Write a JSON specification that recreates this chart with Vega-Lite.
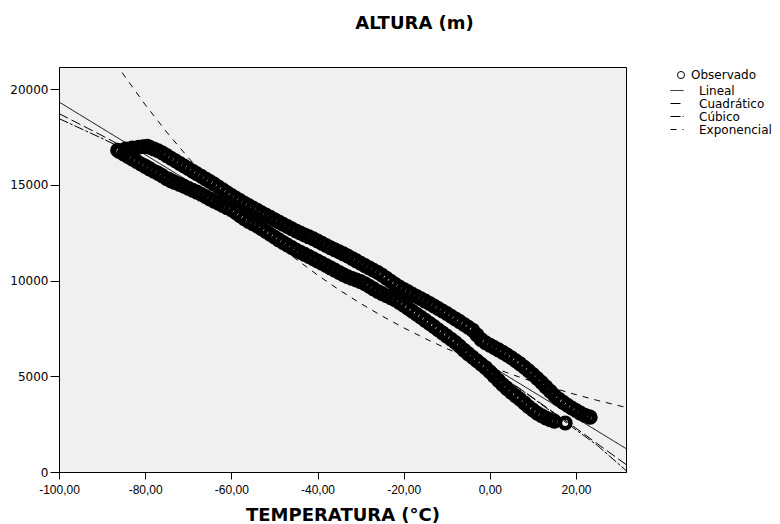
{
  "$schema": "https://vega.github.io/schema/vega-lite/v6.json",
  "width": 567,
  "height": 405,
  "autosize": {"type": "none"},
  "padding": {"left": 59, "top": 67, "right": 154, "bottom": 52},
  "background": "white",
  "title": {"text": "ALTURA (m)", "anchor": "middle", "frame": "group", "dx": 72, "offset": 20, "baseline": "alphabetic", "font": "DejaVu Sans", "fontSize": 18, "fontWeight": "bold", "color": "black"},
  "datasets": {
    "obs": [
      {"t":-79.5,"h":17020},{"t":-79,"h":16974},{"t":-78,"h":16880},{"t":-77,"h":16787},{"t":-76,"h":16665},{"t":-75,"h":16530},{"t":-74,"h":16394},{"t":-73,"h":16259},{"t":-72,"h":16124},{"t":-71,"h":15989},{"t":-70,"h":15854},{"t":-69,"h":15719},{"t":-68,"h":15584},{"t":-67,"h":15449},{"t":-66,"h":15314},{"t":-65,"h":15178},{"t":-64,"h":15043},{"t":-63,"h":14894},{"t":-62,"h":14744},{"t":-61,"h":14594},{"t":-60,"h":14451},{"t":-59,"h":14316},{"t":-58,"h":14181},{"t":-57,"h":14046},{"t":-56,"h":13920},{"t":-55,"h":13795},{"t":-54,"h":13670},{"t":-53,"h":13545},{"t":-52,"h":13424},{"t":-51,"h":13305},{"t":-50,"h":13185},{"t":-49,"h":13066},{"t":-48,"h":12947},{"t":-47,"h":12827},{"t":-46,"h":12708},{"t":-45,"h":12589},{"t":-44,"h":12487},{"t":-43,"h":12387},{"t":-42,"h":12287},{"t":-41,"h":12187},{"t":-40,"h":12073},{"t":-39,"h":11953},{"t":-38,"h":11833},{"t":-37,"h":11716},{"t":-36,"h":11610},{"t":-35,"h":11504},{"t":-34,"h":11398},{"t":-33,"h":11286},{"t":-32,"h":11159},{"t":-31,"h":11032},{"t":-30,"h":10905},{"t":-29,"h":10783},{"t":-28,"h":10664},{"t":-27,"h":10544},{"t":-26,"h":10425},{"t":-25,"h":10280},{"t":-24,"h":10122},{"t":-23,"h":9963},{"t":-22,"h":9804},{"t":-21,"h":9668},{"t":-20,"h":9541},{"t":-19,"h":9414},{"t":-18,"h":9288},{"t":-17,"h":9168},{"t":-16,"h":9049},{"t":-15,"h":8930},{"t":-14,"h":8810},{"t":-13,"h":8677},{"t":-12,"h":8545},{"t":-11,"h":8412},{"t":-10,"h":8279},{"t":-9,"h":8139},{"t":-8,"h":7998},{"t":-7,"h":7857},{"t":-6,"h":7713},{"t":-5,"h":7563},{"t":-4,"h":7412},{"t":-3,"h":7163},{"t":-2,"h":6916},{"t":-1,"h":6756},{"t":0,"h":6627},{"t":1,"h":6505},{"t":2,"h":6383},{"t":3,"h":6251},{"t":4,"h":6115},{"t":5,"h":5970},{"t":6,"h":5812},{"t":7,"h":5651},{"t":8,"h":5471},{"t":9,"h":5291},{"t":10,"h":5091},{"t":11,"h":4888},{"t":12,"h":4674},{"t":13,"h":4450},{"t":14,"h":4225},{"t":15,"h":4000},{"t":16,"h":3807},{"t":17,"h":3639},{"t":18,"h":3489},{"t":19,"h":3347},{"t":20,"h":3212},{"t":21,"h":3077},{"t":22,"h":2969},{"t":23,"h":2885},{"t":23.3,"h":2858},
      {"t":-86.4,"h":16809},{"t":-86,"h":16751},{"t":-85,"h":16617},{"t":-84,"h":16486},{"t":-83,"h":16355},{"t":-82,"h":16223},{"t":-81,"h":16092},{"t":-80,"h":15960},{"t":-79,"h":15836},{"t":-78,"h":15715},{"t":-77,"h":15594},{"t":-76,"h":15463},{"t":-75,"h":15328},{"t":-74,"h":15209},{"t":-73,"h":15119},{"t":-72,"h":15028},{"t":-71,"h":14927},{"t":-70,"h":14825},{"t":-69,"h":14724},{"t":-68,"h":14623},{"t":-67,"h":14513},{"t":-66,"h":14392},{"t":-65,"h":14270},{"t":-64,"h":14152},{"t":-63,"h":14040},{"t":-62,"h":13928},{"t":-61,"h":13815},{"t":-60,"h":13703},{"t":-59,"h":13555},{"t":-58,"h":13393},{"t":-57,"h":13232},{"t":-56,"h":13091},{"t":-55,"h":12970},{"t":-54,"h":12849},{"t":-53,"h":12716},{"t":-52,"h":12569},{"t":-51,"h":12423},{"t":-50,"h":12276},{"t":-49,"h":12129},{"t":-48,"h":11995},{"t":-47,"h":11862},{"t":-46,"h":11730},{"t":-45,"h":11597},{"t":-44,"h":11483},{"t":-43,"h":11371},{"t":-42,"h":11258},{"t":-41,"h":11145},{"t":-40,"h":11025},{"t":-39,"h":10906},{"t":-38,"h":10787},{"t":-37,"h":10667},{"t":-36,"h":10548},{"t":-35,"h":10429},{"t":-34,"h":10310},{"t":-33,"h":10201},{"t":-32,"h":10116},{"t":-31,"h":10032},{"t":-30,"h":9947},{"t":-29,"h":9835},{"t":-28,"h":9702},{"t":-27,"h":9570},{"t":-26,"h":9437},{"t":-25,"h":9321},{"t":-24,"h":9215},{"t":-23,"h":9110},{"t":-22,"h":9004},{"t":-21,"h":8864},{"t":-20,"h":8709},{"t":-19,"h":8555},{"t":-18,"h":8400},{"t":-17,"h":8241},{"t":-16,"h":8082},{"t":-15,"h":7923},{"t":-14,"h":7763},{"t":-13,"h":7598},{"t":-12,"h":7433},{"t":-11,"h":7268},{"t":-10,"h":7101},{"t":-9,"h":6932},{"t":-8,"h":6764},{"t":-7,"h":6569},{"t":-6,"h":6366},{"t":-5,"h":6173},{"t":-4,"h":5993},{"t":-3,"h":5813},{"t":-2,"h":5632},{"t":-1,"h":5452},{"t":0,"h":5236},{"t":1,"h":5011},{"t":2,"h":4785},{"t":3,"h":4559},{"t":4,"h":4352},{"t":5,"h":4155},{"t":6,"h":3975},{"t":7,"h":3800},{"t":8,"h":3610},{"t":9,"h":3413},{"t":10,"h":3239},{"t":11,"h":3070},{"t":12,"h":2945},{"t":13,"h":2820},{"t":14,"h":2731},{"t":15,"h":2649},
      {"t":-84.5,"h":16880},{"t":-83,"h":16930},{"t":-81.5,"h":16970},{"t":-80.5,"h":17000},{"t":17.5,"h":2560}
    ],
    "fit": [
      {"modelo":"Lineal","t":-100,"h":19333},{"modelo":"Lineal","t":-50,"h":12453},{"modelo":"Lineal","t":0,"h":5573},{"modelo":"Lineal","t":31.6,"h":1225},
      {"modelo":"Cuadrático","t":-100,"h":18726},{"modelo":"Cuadrático","t":-90,"h":17575},{"modelo":"Cuadrático","t":-80,"h":16386},{"modelo":"Cuadrático","t":-70,"h":15156},{"modelo":"Cuadrático","t":-60,"h":13886},{"modelo":"Cuadrático","t":-50,"h":12576},{"modelo":"Cuadrático","t":-40,"h":11227},{"modelo":"Cuadrático","t":-30,"h":9837},{"modelo":"Cuadrático","t":-20,"h":8407},{"modelo":"Cuadrático","t":-10,"h":6937},{"modelo":"Cuadrático","t":0,"h":5427},{"modelo":"Cuadrático","t":10,"h":3877},{"modelo":"Cuadrático","t":20,"h":2287},{"modelo":"Cuadrático","t":31.6,"h":392},
      {"modelo":"Cúbico","t":-100,"h":18465},{"modelo":"Cúbico","t":-90,"h":17430},{"modelo":"Cúbico","t":-80,"h":16320},{"modelo":"Cúbico","t":-70,"h":15140},{"modelo":"Cúbico","t":-60,"h":13900},{"modelo":"Cúbico","t":-50,"h":12610},{"modelo":"Cúbico","t":-40,"h":11270},{"modelo":"Cúbico","t":-30,"h":9890},{"modelo":"Cúbico","t":-20,"h":8460},{"modelo":"Cúbico","t":-10,"h":6980},{"modelo":"Cúbico","t":0,"h":5450},{"modelo":"Cúbico","t":10,"h":3860},{"modelo":"Cúbico","t":20,"h":2200},{"modelo":"Cúbico","t":25,"h":1380},{"modelo":"Cúbico","t":31.6,"h":80},
      {"modelo":"Exponencial","t":-90,"h":22431},{"modelo":"Exponencial","t":-85,"h":20753},{"modelo":"Exponencial","t":-80,"h":19194},{"modelo":"Exponencial","t":-75,"h":17756},{"modelo":"Exponencial","t":-70,"h":16425},{"modelo":"Exponencial","t":-65,"h":15194},{"modelo":"Exponencial","t":-60,"h":14055},{"modelo":"Exponencial","t":-55,"h":13003},{"modelo":"Exponencial","t":-50,"h":12029},{"modelo":"Exponencial","t":-45,"h":11126},{"modelo":"Exponencial","t":-40,"h":10292},{"modelo":"Exponencial","t":-35,"h":9520},{"modelo":"Exponencial","t":-30,"h":8807},{"modelo":"Exponencial","t":-25,"h":8147},{"modelo":"Exponencial","t":-20,"h":7536},{"modelo":"Exponencial","t":-15,"h":6971},{"modelo":"Exponencial","t":-10,"h":6448},{"modelo":"Exponencial","t":-5,"h":5965},{"modelo":"Exponencial","t":0,"h":5518},{"modelo":"Exponencial","t":5,"h":5105},{"modelo":"Exponencial","t":10,"h":4722},{"modelo":"Exponencial","t":15,"h":4368},{"modelo":"Exponencial","t":20,"h":4041},{"modelo":"Exponencial","t":25,"h":3738},{"modelo":"Exponencial","t":31.6,"h":3373}
    ]
  },
  "layer": [
    {
      "data": {"name": "obs"},
      "mark": {"type": "point", "filled": false, "size": 110, "strokeWidth": 4.5, "opacity": 1, "color": "black", "clip": true},
      "encoding": {
        "x": {"field": "t", "type": "quantitative", "scale": {"domain": [-100, 31.6], "nice": false, "zero": false},
              "axis": {"values": [-100, -80, -60, -40, -20, 0, 20], "labelExpr": "replace(replace(format(datum.value, '.2f'), '.', ','), '\u2212', '-')", "title": "TEMPERATURA (°C)", "grid": false, "tickSize": 7, "labelPadding": 5, "labelFlush": false, "labelOverlap": false, "titlePadding": 11, "labelFont": "Liberation Sans", "labelFontSize": 12}},
        "y": {"field": "h", "type": "quantitative", "scale": {"domain": [0, 21160], "nice": false, "zero": false},
              "axis": {"values": [0, 5000, 10000, 15000, 20000], "format": "d", "title": null, "grid": false, "tickSize": 9, "labelPadding": 2, "labelFont": "DejaVu Sans", "labelFontSize": 12}},
        "shape": {"datum": "Observado", "type": "nominal", "scale": {"range": ["circle"]},
                  "legend": {"title": null, "orient": "none", "legendX": 616, "legendY": 2, "padding": 0, "symbolSize": 50, "symbolStrokeWidth": 1, "labelOffset": 4, "labelFontSize": 12,
                             "encode": {"symbols": {"update": {"strokeWidth": {"value": 1}}}}}}
      }
    },
    {
      "data": {"name": "fit"},
      "mark": {"type": "line", "color": "black", "strokeWidth": 1, "clip": true},
      "encoding": {
        "x": {"field": "t", "type": "quantitative"},
        "y": {"field": "h", "type": "quantitative"},
        "strokeDash": {"field": "modelo", "type": "nominal",
                       "scale": {"domain": ["Lineal", "Cuadrático", "Cúbico", "Exponencial"], "range": [[1, 0], [10, 4], [10, 2, 3, 2], [6, 6]]},
                       "legend": {"title": null, "orient": "none", "legendX": 611, "legendY": 16.5, "padding": 0, "symbolSize": 169, "symbolStrokeWidth": 1, "symbolStrokeColor": "black", "labelOffset": 15, "labelFontSize": 12, "rowPadding": 0}}
      }
    }
  ],
  "config": {
    "view": {"fill": "#f0f0f0", "stroke": "black", "strokeWidth": 1},
    "axis": {"domainColor": "black", "tickColor": "black", "labelColor": "black", "titleColor": "black", "titleFont": "DejaVu Sans", "titleFontSize": 18, "titleFontWeight": "bold", "domainWidth": 1, "tickWidth": 1},
    "legend": {"labelFont": "DejaVu Sans", "labelFontSize": 12, "labelColor": "black"}
  }
}
